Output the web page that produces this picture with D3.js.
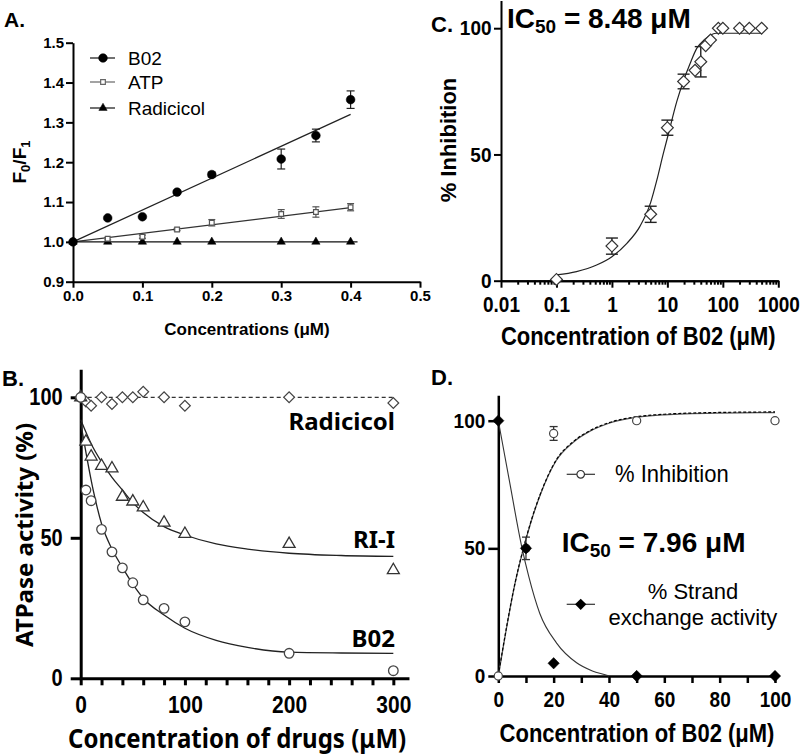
<!DOCTYPE html>
<html><head><meta charset="utf-8">
<script src="https://cdn.jsdelivr.net/npm/d3@7"></script>
<style>body{margin:0;background:#fff;} svg{display:block;}</style>
</head><body>
<script>
// ================= DATA =================
// Panel A
const aConc    = [0, 0.05, 0.1, 0.15, 0.2, 0.3, 0.35, 0.4];
const aB02     = [1.0, 1.060, 1.063, 1.125, 1.169, 1.208, 1.267, 1.357];
const aB02Err  = [0, 0, 0, 0.004, 0.006, 0.025, 0.016, 0.022];
const aATP     = [1.0, 1.008, 1.013, 1.031, 1.048, 1.070, 1.075, 1.087];
const aATPErr  = [0, 0.003, 0.004, 0.003, 0.008, 0.011, 0.013, 0.009];
const aRad     = [1.0, 1.0, 1.0, 1.0, 1.0, 1.0, 1.0, 1.0];
const aFitB02  = [[0, 1.0], [0.4, 1.32]];
const aFitATP  = [[0, 1.0], [0.4, 1.086]];
const aFitRad  = [[0, 1.0], [0.41, 1.0]];
const aXTicks  = [0, 0.1, 0.2, 0.3, 0.4, 0.5];
const aYTicks  = [0.9, 1.0, 1.1, 1.2, 1.3, 1.4, 1.5];
const aLegend  = ["B02", "ATP", "Radicicol"];

// Panel B
const bConc    = [0, 5, 10, 20, 30, 40, 50, 60, 80, 100, 200, 300];
const bRad     = [100, 98.5, 97, 100, 97.6, 100, 100, 102, 100, 97, 100, 98];
const bRI      = [100, 84.2, 78.9, 75.6, 74.7, 64.6, 62.9, 60.8, 55.4, 51.4, 47.8, 38.5];
const bB02     = [100, 67, 63.2, 53, 45, 39.3, 34, 27.9, 24.9, 20.1, 8.9, 2.7];
const bFitRI   = [[0,92],[10,83.5],[20,77],[30,71.5],[40,67],[50,62.5],[60,59],[80,54],[100,51],[130,47.8],[160,46],[200,44.5],[250,43.7],[300,43.4]];
const bFitB02  = [[0,91],[12,67],[20,55],[30,46],[40,39.5],[50,33.5],[60,28.5],[80,22.5],[100,17.8],[130,13.5],[160,11],[200,9.3],[250,9],[300,8.9]];
const bRadLine = [[0,100],[300,100]];
const bXTicks  = [0,20,40,60,80,100,120,140,160,180,200,220,240,260,280,300];
const bXLabels = [0,100,200,300];
const bYTicks  = [0,50,100];
const bLabels  = ["Radicicol", "RI-I", "B02"];

// Panel C
const cConc    = [0.1, 1, 5, 10, 19.6, 31.5, 40, 49, 60, 83, 100, 200, 300, 500];
const cInh     = [0.5, 13.7, 26.3, 60.6, 78.9, 83.3, 86.7, 93.1, 95.3, 100, 100, 100, 100, 100];
const cErr     = [0, 3.2, 3.2, 3, 2.9, 0, 6, 0, 0, 0, 0, 0, 0, 0];
const cFit     = [[0.1,2.3],[0.23,3.6],[0.53,6.2],[1,9.5],[1.86,14.8],[3.2,21.5],[5,31],[6.4,39.5],[8.48,50.5],[10.4,58],[14.8,71],[19.4,79],[25.7,86],[33.8,92],[47.6,95.6],[60,97.3],[75,98],[500,98]];
const cXLabels = [0.01, 0.1, 1, 10, 100, 1000];
const cYTicks  = [0, 50, 100];

// Panel D
const dConc    = [0, 10, 20, 50, 100];
const dInh     = [0, 50, 95, 100, 100];
const dInhErr  = [0, 4.4, 2.7, 0, 0];
const dStrand  = [100, 50, 5, 0, 0];
const dFitInh  = [[0,0],[3,19],[6,36],[9,49.5],[12,61],[15,70.5],[21,84.5],[27,91.5],[33,95.8],[40,99],[48,101],[60,102.3],[80,103],[100,103.2]];
const dFitStr  = [[0,100],[4,76.5],[8.4,51],[11,39],[15,24.5],[21,13],[28.3,5.2],[34,2],[39.2,0.3],[40,0]];
const dXTicks  = [0,10,20,30,40,50,60,70,80,90,100];
const dYTicks  = [0,50,100];

// ================= DRAWING =================
const ARIAL = "'Liberation Sans', Arial, Helvetica, sans-serif";
const SEGOE = "'Noto Sans', 'Open Sans', sans-serif";
const svg = d3.select("body").append("svg").attr("width", 800).attr("height", 756);
svg.append("rect").attr("width", 800).attr("height", 756).attr("fill", "#fff");

function label(x, y, str, o = {}) {
  const t = svg.append("text").attr("x", x).attr("y", y)
    .attr("font-family", o.family || ARIAL).attr("font-size", o.size || 16)
    .attr("font-weight", o.weight || "bold").attr("text-anchor", o.anchor || "start")
    .attr("fill", "#000");
  if (str !== null) t.text(str);
  let tr = "";
  if (o.rotate) tr = `rotate(-90,${x},${y})`;
  if (o.stretch) {
    if (o.rotate) tr += ` translate(${x},0) scale(${o.stretch},1) translate(${-x},0)`;
    else tr = `translate(0,${y}) scale(1,${o.stretch}) translate(0,${-y})`;
  }
  if (tr) t.attr("transform", tr);
  return t;
}
// stretch tick labels vertically about their own centre
function stretchTicks(g, s) {
  g.selectAll(".tick text").each(function () {
    const b = this.getBBox();
    if (!b.height) return;
    const cy = b.y + b.height / 2;
    d3.select(this).attr("transform", `translate(0,${cy}) scale(1,${s}) translate(0,${-cy})`);
  });
}
function styleAxis(g, sw, size, family) {
  g.attr("font-family", family || ARIAL).attr("font-size", size).attr("font-weight", "bold");
  g.select(".domain").attr("stroke-width", sw).attr("stroke", "#000");
  g.selectAll(".tick line").attr("stroke-width", sw).attr("stroke", "#000");
  g.selectAll(".tick text").attr("fill", "#000");
}
function errBars(g, xs, ys, es, x, y, cap, sw, color) {
  xs.forEach((c, i) => {
    if (!es[i]) return;
    const px = x(c), y1 = y(ys[i] - es[i]), y2 = y(ys[i] + es[i]);
    g.append("line").attr("x1", px).attr("x2", px).attr("y1", y1).attr("y2", y2).attr("stroke", color).attr("stroke-width", sw);
    [y1, y2].forEach(yy => g.append("line").attr("x1", px - cap / 2).attr("x2", px + cap / 2).attr("y1", yy).attr("y2", yy).attr("stroke", color).attr("stroke-width", sw));
  });
}
function marks(g, xs, ys, x, y, type, size, fill, stroke, sw, rot) {
  const sym = d3.symbol().type(type).size(size);
  g.selectAll(null).data(xs.map((c, i) => [c, ys[i]])).enter().append("path")
    .attr("d", sym)
    .attr("transform", d => `translate(${x(d[0])},${y(d[1])})` + (rot ? ` rotate(${rot})` : ""))
    .attr("fill", fill).attr("stroke", stroke).attr("stroke-width", sw);
}
function fitPath(g, pts, x, y, color, sw, dash, curve) {
  const line = d3.line().x(d => x(d[0])).y(d => y(d[1])).curve(curve || d3.curveMonotoneX);
  const p = g.append("path").attr("d", line(pts)).attr("fill", "none").attr("stroke", color).attr("stroke-width", sw);
  if (dash) p.attr("stroke-dasharray", dash);
  return p;
}

// ---------- Panel A ----------
{
  const g = svg.append("g");
  const x = d3.scaleLinear().domain([0, 0.5]).range([73, 420]);
  const y = d3.scaleLinear().domain([0.9, 1.5]).range([281.7, 42.7]);
  const gx = g.append("g").attr("transform", "translate(0,281.7)")
    .call(d3.axisBottom(x).tickValues(aXTicks).tickFormat(d3.format(".1f")).tickSize(6).tickSizeOuter(0).tickPadding(3));
  styleAxis(gx, 2, 15);
  const gy = g.append("g").attr("transform", "translate(73,0)")
    .call(d3.axisLeft(y).tickValues(aYTicks).tickFormat(d3.format(".1f")).tickSize(7).tickSizeOuter(0).tickPadding(2));
  styleAxis(gy, 2, 15);

  fitPath(g, aFitB02, x, y, "#222", 1.2, null, d3.curveLinear);
  fitPath(g, aFitATP, x, y, "#333", 1.2, null, d3.curveLinear);
  fitPath(g, aFitRad, x, y, "#111", 1.2, null, d3.curveLinear);
  errBars(g, aConc, aB02, aB02Err, x, y, 8, 1.2, "#222");
  errBars(g, aConc, aATP, aATPErr, x, y, 7, 1.2, "#555");
  marks(g, aConc, aRad, x, y, d3.symbolTriangle, 30, "#000", "#000", 0.5);
  marks(g, aConc, aATP, x, y, d3.symbolSquare, 22, "#fff", "#555", 1.2);
  marks(g, aConc, aB02, x, y, d3.symbolCircle, 60, "#000", "#000", 0.5);

  // legend
  const ly = [58, 82, 108];
  const lt = [[d3.symbolCircle, 60, "#000", "#000"], [d3.symbolSquare, 22, "#fff", "#666"], [d3.symbolTriangle, 30, "#000", "#000"]];
  aLegend.forEach((name, i) => {
    g.append("line").attr("x1", 90).attr("x2", 115).attr("y1", ly[i]).attr("y2", ly[i]).attr("stroke", i === 1 ? "#666" : "#111").attr("stroke-width", 1.2);
    g.append("path").attr("d", d3.symbol().type(lt[i][0]).size(lt[i][1])).attr("transform", `translate(103,${ly[i]})`)
      .attr("fill", lt[i][2]).attr("stroke", lt[i][3]).attr("stroke-width", i === 1 ? 1.2 : 0.5);
    label(128, ly[i] + 6.8, name, { size: 19, weight: "normal" });
  });

  label(4, 27, "A.", { size: 21 });
  label(247, 335, "Concentrations (\u03bcM)", { size: 17, anchor: "middle" });
  const t = label(26, 162, null, { size: 19, anchor: "middle", rotate: true });
  t.append("tspan").text("F");
  t.append("tspan").text("0").attr("font-size", 13).attr("dy", 4);
  t.append("tspan").text("/F").attr("dy", -4);
  t.append("tspan").text("1").attr("font-size", 13).attr("dy", 4);
}

// ---------- Panel B ----------
{
  const g = svg.append("g");
  const x = d3.scaleLinear().domain([0, 315]).range([80.7, 80.7 + 315 * 1.0421]);
  const y = d3.scaleLinear().domain([0, 110]).range([678.3, 678.3 - 110 * 2.81]);
  const gx = g.append("g").attr("transform", "translate(0,678.3)")
    .call(d3.axisBottom(x).tickValues(bXTicks).tickFormat(d => bXLabels.includes(d) ? d : "").tickSize(7).tickSizeOuter(0).tickPadding(12));
  styleAxis(gx, 3, 21);
  stretchTicks(gx, 1.12);
  const gy = g.append("g").attr("transform", "translate(80.7,0)")
    .call(d3.axisLeft(y).tickValues(bYTicks).tickSize(10).tickSizeOuter(0).tickPadding(8));
  styleAxis(gy, 3, 20);
  stretchTicks(gy, 1.15);

  fitPath(g, bRadLine, x, y, "#333", 1.3, "4,3", d3.curveLinear);
  fitPath(g, bFitRI, x, y, "#222", 1.3);
  fitPath(g, bFitB02, x, y, "#222", 1.3);
  marks(g, bConc, bRad, x, y, d3.symbolSquare, 58, "#fff", "#444", 1.2, 45);
  marks(g, bConc, bRI, x, y, d3.symbolTriangle, 62, "#fff", "#333", 1.3);
  marks(g, bConc, bB02, x, y, d3.symbolCircle, 72, "#fff", "#444", 1.3);

  label(395, 430, bLabels[0], { size: 24, family: SEGOE, anchor: "end" });
  label(395, 548, bLabels[1], { size: 24, family: SEGOE, anchor: "end" });
  label(395, 647, bLabels[2], { size: 24, family: SEGOE, anchor: "end" });

  label(2, 386, "B.", { size: 22 });
  label(33, 535, "ATPase activity (%)", { size: 24, family: SEGOE, anchor: "middle", rotate: true });
  label(68, 748, "Concentration of drugs (\u03bcM)", { size: 24, family: SEGOE, stretch: 1.1 });
}

// ---------- Panel C ----------
{
  const g = svg.append("g");
  const x = d3.scaleLog().domain([0.01, 1000]).range([501, 778.3]);
  const y = d3.scaleLinear().domain([0, 111]).range([280.7, 280.7 - 111 * 2.525]);
  const minors = x.ticks().filter(v => !cXLabels.some(m => Math.abs(m - v) < 1e-9));
  const gm = g.append("g").attr("transform", "translate(0,280.7)")
    .call(d3.axisBottom(x).tickValues(minors).tickFormat("").tickSize(4).tickSizeOuter(0));
  styleAxis(gm, 2, 19);
  const gx = g.append("g").attr("transform", "translate(0,280.7)")
    .call(d3.axisBottom(x).tickValues(cXLabels).tickFormat(d => String(d)).tickSize(7).tickSizeOuter(0).tickPadding(10));
  styleAxis(gx, 2, 19);
  stretchTicks(gx, 1.15);
  const gy = g.append("g").attr("transform", "translate(501,0)")
    .call(d3.axisLeft(y).tickValues(cYTicks).tickSize(7).tickSizeOuter(0).tickPadding(2.5));
  styleAxis(gy, 2, 19);
  stretchTicks(gy, 1.08);

  fitPath(g, cFit, x, y, "#222", 1.2);
  errBars(g, cConc, cInh, cErr, x, y, 12, 1.4, "#222");
  marks(g, cConc, cInh, x, y, d3.symbolSquare, 70, "#fff", "#333", 1.2, 45);

  label(431, 32, "C.", { size: 22 });
  const t = label(507, 28.3, null, { size: 28 });
  t.append("tspan").text("IC");
  t.append("tspan").text("50").attr("font-size", 19).attr("dy", 5);
  t.append("tspan").text(" = 8.48 \u03bcM").attr("dy", -5);
  label(638.3, 345, "Concentration of B02 (\u03bcM)", { size: 22, anchor: "middle", stretch: 1.2 });
  label(456, 140, "% Inhibition", { size: 22, anchor: "middle", rotate: true });
}

// ---------- Panel D ----------
{
  const g = svg.append("g");
  const x = d3.scaleLinear().domain([0, 100]).range([498.3, 775]);
  const y = d3.scaleLinear().domain([0, 110]).range([676, 676 - 110 * 2.553]);
  const gx = g.append("g").attr("transform", "translate(0,676)")
    .call(d3.axisBottom(x).tickValues(dXTicks).tickFormat(d => d % 20 === 0 ? d : "").tickSize(7).tickSizeOuter(0).tickPadding(10));
  styleAxis(gx, 2.5, 19);
  stretchTicks(gx, 1.12);
  const gy = g.append("g").attr("transform", "translate(498.3,0)")
    .call(d3.axisLeft(y).tickValues(dYTicks).tickSize(10).tickSizeOuter(0).tickPadding(3));
  styleAxis(gy, 2.5, 19);
  stretchTicks(gy, 1.08);

  fitPath(g, dFitStr, x, y, "#333", 1.1);
  fitPath(g, dFitInh, x, y, "#555", 1.3);
  fitPath(g, dFitInh, x, y, "#000", 1.2, "3,2").attr("transform", "translate(0,-0.6)");
  errBars(g, dConc, dInh, dInhErr, x, y, 8, 1.3, "#333");
  marks(g, dConc, dInh, x, y, d3.symbolCircle, 52, "#fff", "#444", 1.2);
  marks(g, dConc, dStrand, x, y, d3.symbolSquare, 64, "#000", "#000", 0.5, 45);

  // legend
  g.append("line").attr("x1", 566.7).attr("x2", 595).attr("y1", 474.3).attr("y2", 474.3).attr("stroke", "#333").attr("stroke-width", 1.2);
  g.append("path").attr("d", d3.symbol().type(d3.symbolCircle).size(45)).attr("transform", "translate(580.7,474.3)")
    .attr("fill", "#fff").attr("stroke", "#333").attr("stroke-width", 1.2);
  label(615, 481.7, "% Inhibition", { size: 22, weight: "normal", stretch: 1.08 });
  g.append("line").attr("x1", 566.7).attr("x2", 595).attr("y1", 604.3).attr("y2", 604.3).attr("stroke", "#333").attr("stroke-width", 1.2);
  g.append("path").attr("d", d3.symbol().type(d3.symbolSquare).size(64)).attr("transform", "translate(580.7,604.3) rotate(45)")
    .attr("fill", "#000");
  label(693, 598.5, "% Strand", { size: 22, weight: "normal", anchor: "middle" });
  label(693, 624.5, "exchange activity", { size: 22, weight: "normal", anchor: "middle" });

  label(431, 385, "D.", { size: 22 });
  const t = label(561.7, 551.7, null, { size: 28 });
  t.append("tspan").text("IC");
  t.append("tspan").text("50").attr("font-size", 19).attr("dy", 5);
  t.append("tspan").text(" = 7.96 \u03bcM").attr("dy", -5);
  label(637, 741.7, "Concentration of B02 (\u03bcM)", { size: 22, anchor: "middle", stretch: 1.2 });
}
</script>
</body></html>
